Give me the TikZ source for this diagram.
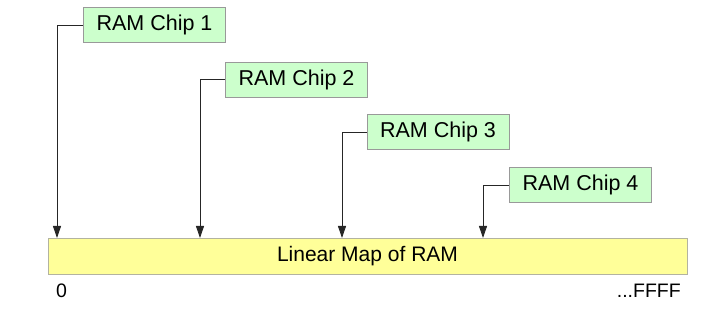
\documentclass[tikz,border=0pt]{standalone}
\usepackage{fontspec}
\setmainfont{Liberation Sans}
\usetikzlibrary{arrows.meta}
\definecolor{chipfill}{HTML}{CCFFCC}
\definecolor{chipline}{HTML}{999999}
\definecolor{mapfill}{HTML}{FFFF99}
\definecolor{mapline}{HTML}{B3B3A0}
\begin{document}
\begin{tikzpicture}[x=1pt,y=-1pt,
  chip/.style={draw=chipline,fill=chipfill,line width=0.9pt,minimum width=142pt,minimum height=35pt,inner sep=0pt,font=\fontsize{21.5}{25}\selectfont},
  mapbar/.style={draw=mapline,fill=mapfill,line width=0.9pt,minimum width=639pt,minimum height=36pt,inner sep=0pt,font=\fontsize{21}{25}\selectfont},
  link/.style={draw=black!85,line width=0.9pt,-{Triangle[length=12pt,width=8pt]}},
  addr/.style={font=\fontsize{19.5}{23}\selectfont,inner sep=0pt}]
\useasboundingbox (0,0) rectangle (724,326);
% the address space
\node[mapbar] (map) at (367.5,256) {Linear Map of RAM};
\node[addr,anchor=base west] (lo) at (56,298) {0};
\node[addr,anchor=base east] (hi) at (681,298) {...FFFF};
% the chips
\node[chip] (c1) at (154.5,25) {RAM Chip 1};
\node[chip] (c2) at (296.5,79.5) {RAM Chip 2};
\node[chip] (c3) at (438,132) {RAM Chip 3};
\node[chip] (c4) at (580.5,185) {RAM Chip 4};
% where each chip starts in the map
\coordinate (s1) at (57,238);
\coordinate (s2) at (200,238);
\coordinate (s3) at (342,238);
\coordinate (s4) at (483,238);
\draw[link] (c1.west) -| (s1);
\draw[link] (c2.west) -| (s2);
\draw[link] (c3.west) -| (s3);
\draw[link] (c4.west) -| (s4);
\end{tikzpicture}
\end{document}
